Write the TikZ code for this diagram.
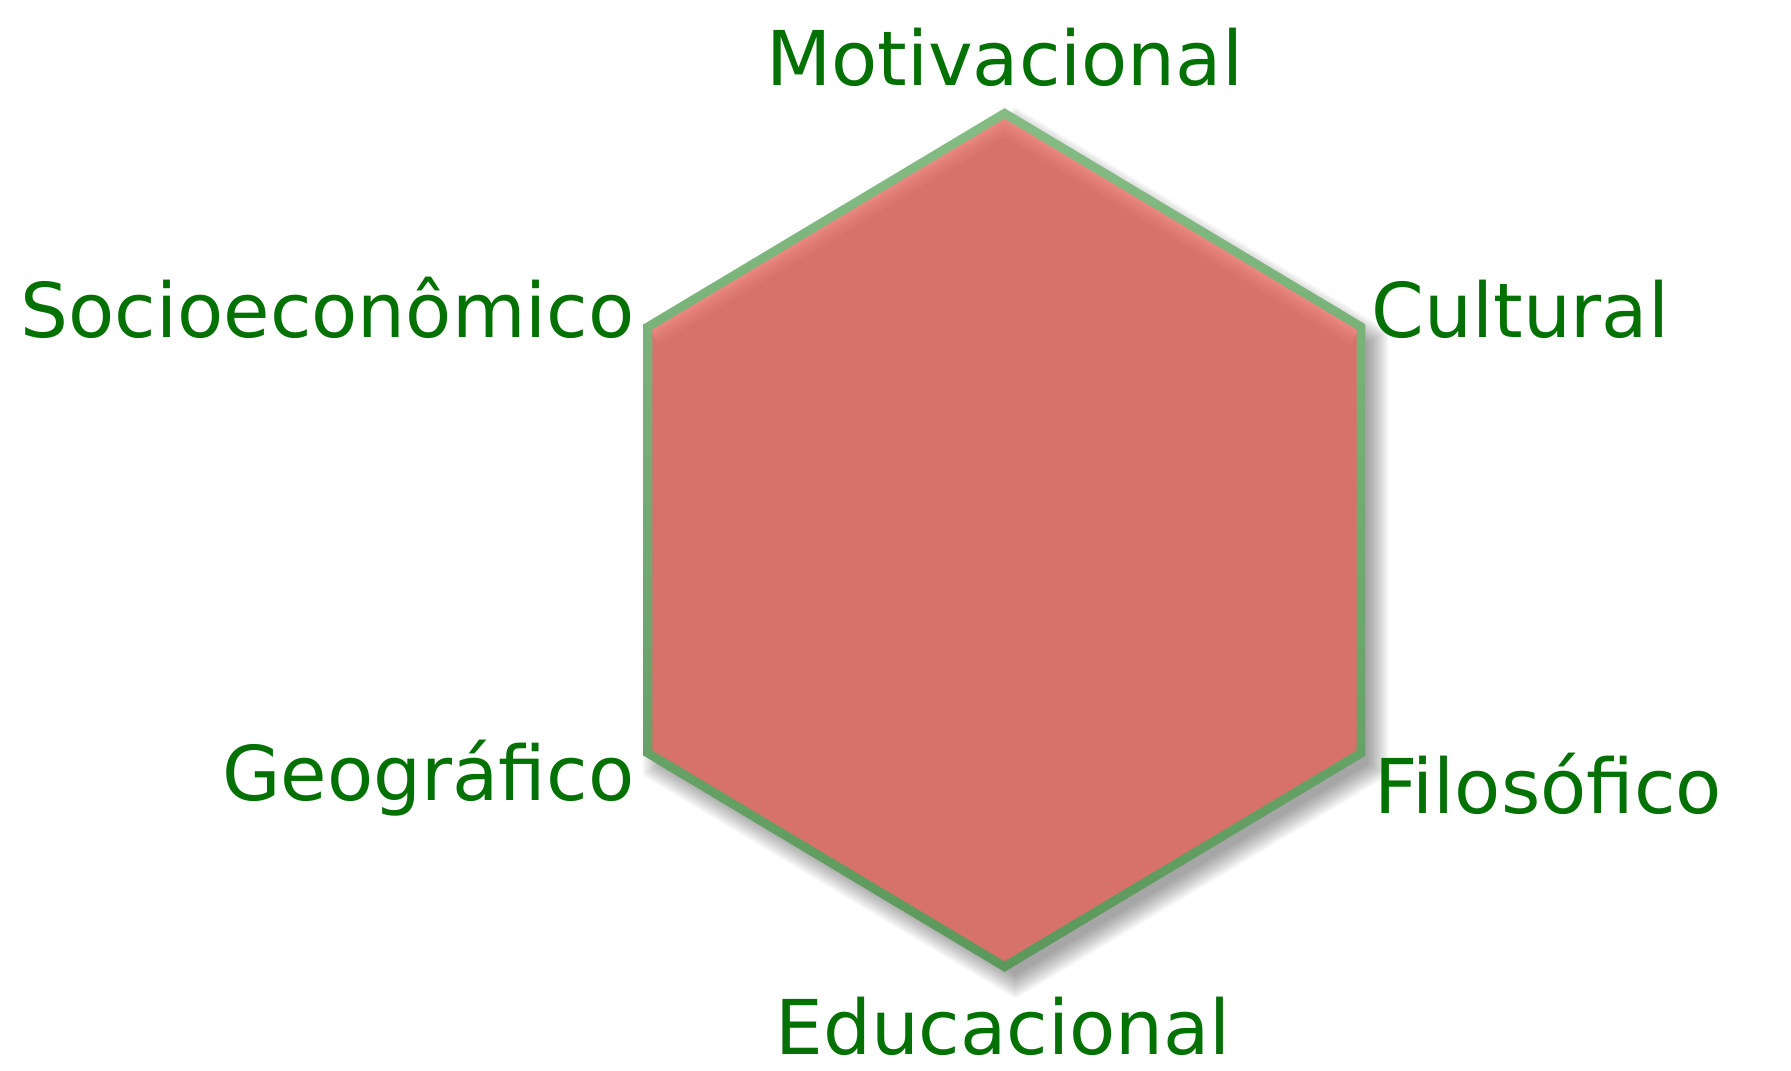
\documentclass[tikz,border=0pt]{standalone}
\usepackage{fontspec}
\setmainfont{DejaVu Sans}
\usetikzlibrary{positioning}
\definecolor{hexred}{HTML}{D6726A}
\definecolor{hexglow}{HTML}{F6978E}
\definecolor{rimtop}{HTML}{84BC84}
\definecolor{rimbot}{HTML}{5C985C}
\definecolor{labelgreen}{HTML}{037103}
\newcommand\hexpath{(0, 4.265) -- (3.565, 2.13) -- (3.565, -2.13) -- (0, -4.265) -- (-3.565, -2.13) -- (-3.565, 2.13) -- cycle}

\begin{document}
\begin{tikzpicture}[
        facet/.style = {text = labelgreen, font = \fontsize{21.5}{26}\selectfont, inner sep = 0pt}
    ]
    \useasboundingbox (0, 0) rectangle (17.91, 10.70);
    \coordinate (c) at (10.045, 5.30);
    % soft shadow
    \foreach \s in {0.990, 0.995, ..., 1.045}
        \fill[black, opacity = 0.035, shift = {(c)}, xshift = 1.1mm, yshift = -1.3mm, scale = \s] \hexpath;
    % rim and face
    \shade[shift = {(c)}, scale = 1.0125, top color = rimtop, bottom color = rimbot] \hexpath;
    \fill[hexred, shift = {(c)}, scale = 0.9875] \hexpath;
    \scope[shift = {(c)}]
        \clip[scale = 0.9875] \hexpath;
        \foreach \w/\o in {0.40/0.12, 0.32/0.15, 0.24/0.2, 0.17/0.27, 0.11/0.35, 0.06/0.45}
            \draw[hexglow, line width = \w cm, opacity = \o, line join = round] (-3.565, 2.13) -- (0, 4.265) -- (3.565, 2.13);
    \endscope
    % labels
    \node[facet, anchor = base] (motiv) at (10.045, 9.84) {Motivacional};
    \node[facet, anchor = base west] (cult) at (13.71, 7.33) {Cultural};
    \node[facet, anchor = base west] (filo) at (13.74, 2.57) {Filosófico};
    \node[facet, anchor = base] (educ) at (10.03, 0.16) {Educacional};
    \node[facet, anchor = base east] (geo) at (6.35, 2.70) {Geográfico};
    \node[facet, anchor = base east] (socio) at (6.35, 7.33) {Socioeconômico};
\end{tikzpicture}
\end{document}
